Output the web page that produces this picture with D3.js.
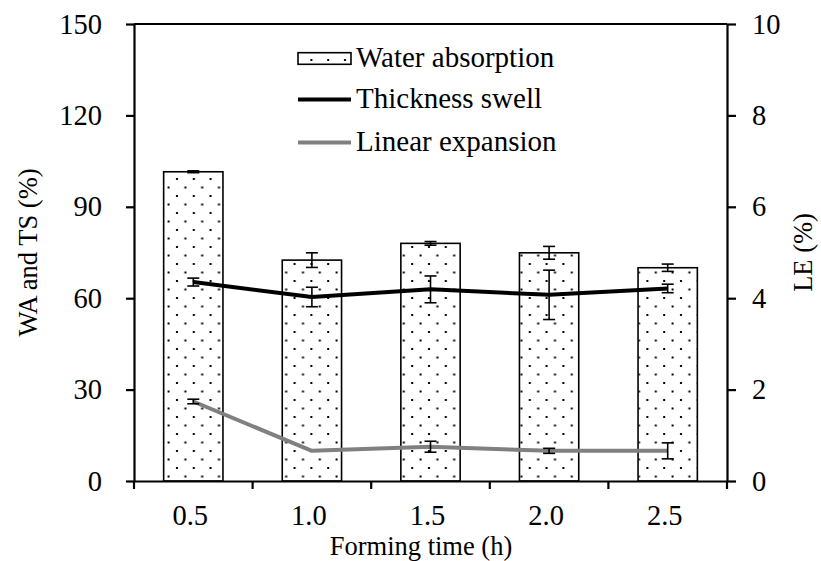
<!DOCTYPE html>
<html>
<head>
<meta charset="utf-8">
<script src="https://cdn.jsdelivr.net/npm/d3@7"></script>
<style>
  html, body { margin: 0; padding: 0; background: #fff; }
</style>
</head>
<body>
<svg id="chart" width="821" height="561"></svg>
<script>
// ---- data ----
const categories = ["0.5", "1.0", "1.5", "2.0", "2.5"];
const waValues = [101.5, 72.5, 78.0, 74.9, 70.0];
const waErrors = [0.3, 2.4, 0.6, 2.1, 1.2];
const tsValues = [65.3, 60.4, 62.9, 61.1, 63.2];
const tsErrors = [1.3, 3.2, 4.4, 8.1, 1.4];
const leValues = [1.74, 0.66, 0.75, 0.66, 0.66];
const leErrors = [0.05, 0.0, 0.12, 0.055, 0.175];
const leftTicks = [0, 30, 60, 90, 120, 150];
const rightTicks = [0, 2, 4, 6, 8, 10];
const seriesNames = ["Water absorption", "Thickness swell", "Linear expansion"];

// ---- layout ----
const SERIF = "'Liberation Serif', 'Times New Roman', Tinos, 'DejaVu Serif', serif";
const svg = d3.select("#chart").attr("font-family", SERIF);
const L = 134, R = 727, T = 24, B = 481;
const FONT = 28.5, LEGFONT = 29, TITLEFONT = 26.5;

const x = d3.scaleBand().domain(categories).range([L, R]).paddingInner(0.5).paddingOuter(0.25);
const yL = d3.scaleLinear().domain([0, 150]).range([B, T]);
const yR = d3.scaleLinear().domain([0, 10]).range([B, T]);
const cx = c => x(c) + x.bandwidth() / 2;

// dotted pattern
const defs = svg.append("defs");
const pat = defs.append("pattern").attr("id", "dots").attr("patternUnits", "userSpaceOnUse")
  .attr("width", 16.8).attr("height", 17).attr("x", 2).attr("y", 2);
pat.append("rect").attr("width", 16.8).attr("height", 17).attr("fill", "#fff");
pat.append("rect").attr("x", 6).attr("y", 6).attr("width", 2).attr("height", 2).attr("fill", "#000");
pat.append("rect").attr("x", 14.4).attr("y", 14.5).attr("width", 2).attr("height", 2).attr("fill", "#000");

// bars
svg.append("g").selectAll("rect").data(categories).join("rect")
  .attr("x", c => x(c)).attr("width", x.bandwidth())
  .attr("y", (c, i) => yL(waValues[i])).attr("height", (c, i) => yL(0) - yL(waValues[i]))
  .attr("fill", "url(#dots)").attr("stroke", "#000").attr("stroke-width", 1.6);

function errorBars(vals, errs, scale) {
  const g = svg.append("g").attr("stroke", "#000").attr("stroke-width", 1.6).attr("fill", "none");
  categories.forEach((c, i) => {
    if (!errs[i]) return;
    const xc = cx(c), y1 = scale(vals[i] + errs[i]), y2 = scale(vals[i] - errs[i]);
    g.append("line").attr("x1", xc).attr("x2", xc).attr("y1", y1).attr("y2", y2);
    g.append("line").attr("x1", xc - 6).attr("x2", xc + 6).attr("y1", y1).attr("y2", y1);
    g.append("line").attr("x1", xc - 6).attr("x2", xc + 6).attr("y1", y2).attr("y2", y2);
  });
}
errorBars(waValues, waErrors, yL);

// lines
const lineTS = d3.line().x((d, i) => cx(categories[i])).y(d => yL(d));
const lineLE = d3.line().x((d, i) => cx(categories[i])).y(d => yR(d));
svg.append("path").datum(tsValues).attr("d", lineTS).attr("fill", "none")
  .attr("stroke", "#000").attr("stroke-width", 4).attr("stroke-linejoin", "round");
svg.append("path").datum(leValues).attr("d", lineLE).attr("fill", "none")
  .attr("stroke", "#808080").attr("stroke-width", 4).attr("stroke-linejoin", "round");
errorBars(tsValues, tsErrors, yL);
errorBars(leValues, leErrors, yR);

// axes
function styleAxis(a) {
  a.attr("font-family", SERIF).attr("font-size", FONT);
  a.select(".domain").attr("stroke-width", 2.2);
  a.selectAll(".tick line").attr("stroke-width", 2.2);
  a.selectAll(".tick text").attr("font-size", FONT).attr("font-family", SERIF);
}
const axL = svg.append("g").attr("transform", `translate(${L},0)`)
  .call(d3.axisLeft(yL).tickValues(leftTicks).tickSize(8).tickPadding(24).tickSizeOuter(0));
const axR = svg.append("g").attr("transform", `translate(${R},0)`)
  .call(d3.axisRight(yR).tickValues(rightTicks).tickSize(9).tickPadding(16).tickSizeOuter(0));
styleAxis(axL); styleAxis(axR);
// top border
svg.append("line").attr("x1", L).attr("x2", R).attr("y1", T).attr("y2", T)
  .attr("stroke", "#000").attr("stroke-width", 2.2);
// bottom axis
const axB = svg.append("g").attr("transform", `translate(0,${B})`)
  .call(d3.axisBottom(x).tickSize(0).tickPadding(24).tickSizeOuter(0));
styleAxis(axB);
axB.selectAll(".tick text").attr("dx", -3);
const boundaries = categories.map(c => x(c) - x.step() * x.paddingInner() / 2).concat([R]);
axB.selectAll("line.bnd").data(boundaries).join("line").attr("class", "bnd")
  .attr("x1", d => d).attr("x2", d => d).attr("y1", 0).attr("y2", 8)
  .attr("stroke", "#000").attr("stroke-width", 2.2);

// axis titles
svg.append("text").attr("x", 421).attr("y", 554.5).attr("text-anchor", "middle")
  .attr("font-size", TITLEFONT).text("Forming time (h)");
svg.append("text").attr("transform", `translate(37,${(T + B) / 2}) rotate(-90)`)
  .attr("text-anchor", "middle").attr("font-size", TITLEFONT).text("WA and TS (%)");
svg.append("text").attr("transform", `translate(812,${(T + B) / 2}) rotate(-90)`)
  .attr("text-anchor", "middle").attr("font-size", TITLEFONT).text("LE (%)");

// legend
const lg = svg.append("g");
const lx = 298, lw = 53, rows = [58.5, 99.5, 142.5];
lg.append("rect").attr("x", lx).attr("y", rows[0] - 5.8).attr("width", lw).attr("height", 11.6)
  .attr("fill", "url(#dots)").attr("stroke", "#000").attr("stroke-width", 1.6);
lg.append("line").attr("x1", lx).attr("x2", lx + lw).attr("y1", rows[1]).attr("y2", rows[1])
  .attr("stroke", "#000").attr("stroke-width", 4);
lg.append("line").attr("x1", lx).attr("x2", lx + lw).attr("y1", rows[2]).attr("y2", rows[2])
  .attr("stroke", "#808080").attr("stroke-width", 4);
lg.selectAll("text").data(seriesNames).join("text")
  .attr("x", lx + lw + 5).attr("y", (d, i) => rows[i] + 8).attr("font-size", LEGFONT).text(d => d);
</script>
</body>
</html>
